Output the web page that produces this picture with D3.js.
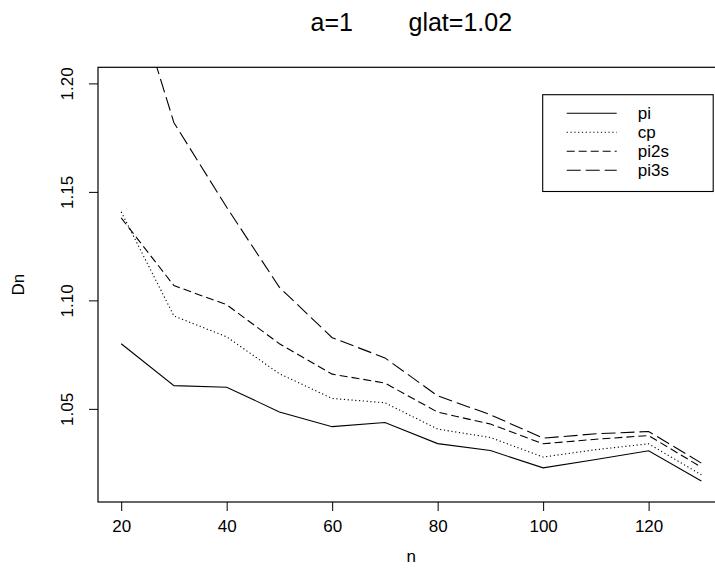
<!DOCTYPE html>
<html>
<head>
<meta charset="utf-8">
<script src="https://cdnjs.cloudflare.com/ajax/libs/d3/7.8.5/d3.min.js"></script>
<style>
  body { margin: 0; background: #fff; }
  svg text { font-family: "Liberation Sans", Arial, Helvetica, sans-serif; fill: #000; }
</style>
</head>
<body>
<div id="chart"></div>
<script>
// data
const nValues = [20, 30, 40, 50, 60, 70, 80, 90, 100, 110, 120, 130];
const pi   = [1.080, 1.0607, 1.0600, 1.0486, 1.0418, 1.0437, 1.0340, 1.0308, 1.0228, 1.0267, 1.0307, 1.0168];
const cp   = [1.1408, 1.0928, 1.0832, 1.0662, 1.0548, 1.0528, 1.0407, 1.0368, 1.0278, 1.0312, 1.0339, 1.0196];
const pi2s = [1.1380, 1.1068, 1.0980, 1.0800, 1.0660, 1.0619, 1.0485, 1.0430, 1.0339, 1.0360, 1.0377, 1.0231];
const pi3s = [1.2606, 1.1819, 1.1429, 1.1060, 1.0828, 1.0735, 1.0560, 1.0473, 1.0365, 1.0385, 1.0396, 1.0250];
const seriesNames = ['pi', 'cp', 'pi2s', 'pi3s'];
const xTicks = [20, 40, 60, 80, 100, 120];
const yTicks = [1.05, 1.10, 1.15, 1.20];
const ylim = [1.0145, 1.20];

const width = 715;
const height = 573;
const plot = { left: 98, top: 67.3, bottom: 502 };

// R style line types
const dashes = { pi: null, cp: '1.2,2.6', pi2s: '8,4', pi3s: '14,5' };

const svg = d3.select('#chart')
  .append('svg')
  .attr('width', width)
  .attr('height', height);

// R extends the range by 4% on each side
const xExt = d3.extent(nValues);
const xPad = (xExt[1] - xExt[0]) * 0.04;
const yPad = (ylim[1] - ylim[0]) * 0.04;

const pxPerUnit = 5.274;
const xScale = d3.scaleLinear()
  .domain([xExt[0] - xPad, xExt[1] + xPad])
  .range([plot.left, plot.left + (xExt[1] - xExt[0] + 2 * xPad) * pxPerUnit]);

const yScale = d3.scaleLinear()
  .domain([ylim[0] - yPad, ylim[1] + yPad])
  .range([plot.bottom, plot.top]);

const plotRight = xScale.range()[1];

svg.append('clipPath')
  .attr('id', 'clip')
  .append('rect')
  .attr('x', plot.left)
  .attr('y', plot.top)
  .attr('width', plotRight - plot.left)
  .attr('height', plot.bottom - plot.top);

// axes
const xAxis = d3.axisBottom(xScale)
  .tickValues(xTicks)
  .tickFormat(d3.format('d'))
  .tickSize(9)
  .tickPadding(6)
  .tickSizeOuter(0);

const yAxis = d3.axisLeft(yScale)
  .tickValues(yTicks)
  .tickFormat(d3.format('.2f'))
  .tickSize(9)
  .tickSizeOuter(0);

const gx = svg.append('g')
  .attr('class', 'xaxis')
  .attr('transform', `translate(0, ${plot.bottom})`)
  .call(xAxis);
gx.select('.domain').remove();
gx.selectAll('line').attr('stroke', '#000');
gx.selectAll('text')
  .style('font-size', '17px')
  .attr('y', 18)
  .attr('dy', '0.71em');

const gy = svg.append('g')
  .attr('class', 'yaxis')
  .attr('transform', `translate(${plot.left}, 0)`)
  .call(yAxis);
gy.select('.domain').remove();
gy.selectAll('line').attr('stroke', '#000');
gy.selectAll('text')
  .style('font-size', '17px')
  .attr('text-anchor', 'middle')
  .attr('x', null)
  .attr('dy', null)
  .attr('transform', 'translate(-25, 0) rotate(-90)');

// box
svg.append('rect')
  .attr('x', plot.left)
  .attr('y', plot.top)
  .attr('width', plotRight - plot.left)
  .attr('height', plot.bottom - plot.top)
  .attr('fill', 'none')
  .attr('stroke', '#000')
  .attr('stroke-width', 1.2);

// lines
const series = [pi, cp, pi2s, pi3s];
const line = d3.line()
  .x((d, i) => xScale(nValues[i]))
  .y(d => yScale(d));

svg.append('g')
  .attr('clip-path', 'url(#clip)')
  .selectAll('path')
  .data(series)
  .enter()
  .append('path')
  .attr('d', d => line(d))
  .attr('fill', 'none')
  .attr('stroke', '#000')
  .attr('stroke-width', 1.1)
  .attr('stroke-dasharray', (d, i) => dashes[seriesNames[i]]);

// titles
svg.append('text')
  .attr('x', (plot.left + plotRight) / 2)
  .attr('y', 31)
  .attr('text-anchor', 'middle')
  .style('font-size', '25px')
  .style('white-space', 'pre')
  .text('a=1        glat=1.02');

svg.append('text')
  .attr('x', (plot.left + plotRight) / 2)
  .attr('y', 562)
  .attr('text-anchor', 'middle')
  .style('font-size', '17px')
  .text('n');

svg.append('text')
  .attr('transform', `translate(24, ${(plot.top + plot.bottom) / 2}) rotate(-90)`)
  .attr('text-anchor', 'middle')
  .style('font-size', '17px')
  .text('Dn');

// legend
const legend = { x: 542.7, y: 94.7, w: 170.5, h: 96.8, row: 19 };
svg.append('rect')
  .attr('x', legend.x)
  .attr('y', legend.y)
  .attr('width', legend.w)
  .attr('height', legend.h)
  .attr('fill', '#fff')
  .attr('stroke', '#000')
  .attr('stroke-width', 1.1);

const items = svg.append('g')
  .selectAll('g')
  .data(seriesNames)
  .enter()
  .append('g')
  .attr('transform', (d, i) => `translate(${legend.x}, ${legend.y + 18.5 + i * legend.row})`);

items.append('line')
  .attr('x1', 24)
  .attr('x2', 74)
  .attr('stroke', '#000')
  .attr('stroke-width', 1.1)
  .attr('stroke-dasharray', d => dashes[d]);

items.append('text')
  .attr('x', 95)
  .attr('dy', '0.35em')
  .style('font-size', '17px')
  .text(d => d);
</script>
</body>
</html>
